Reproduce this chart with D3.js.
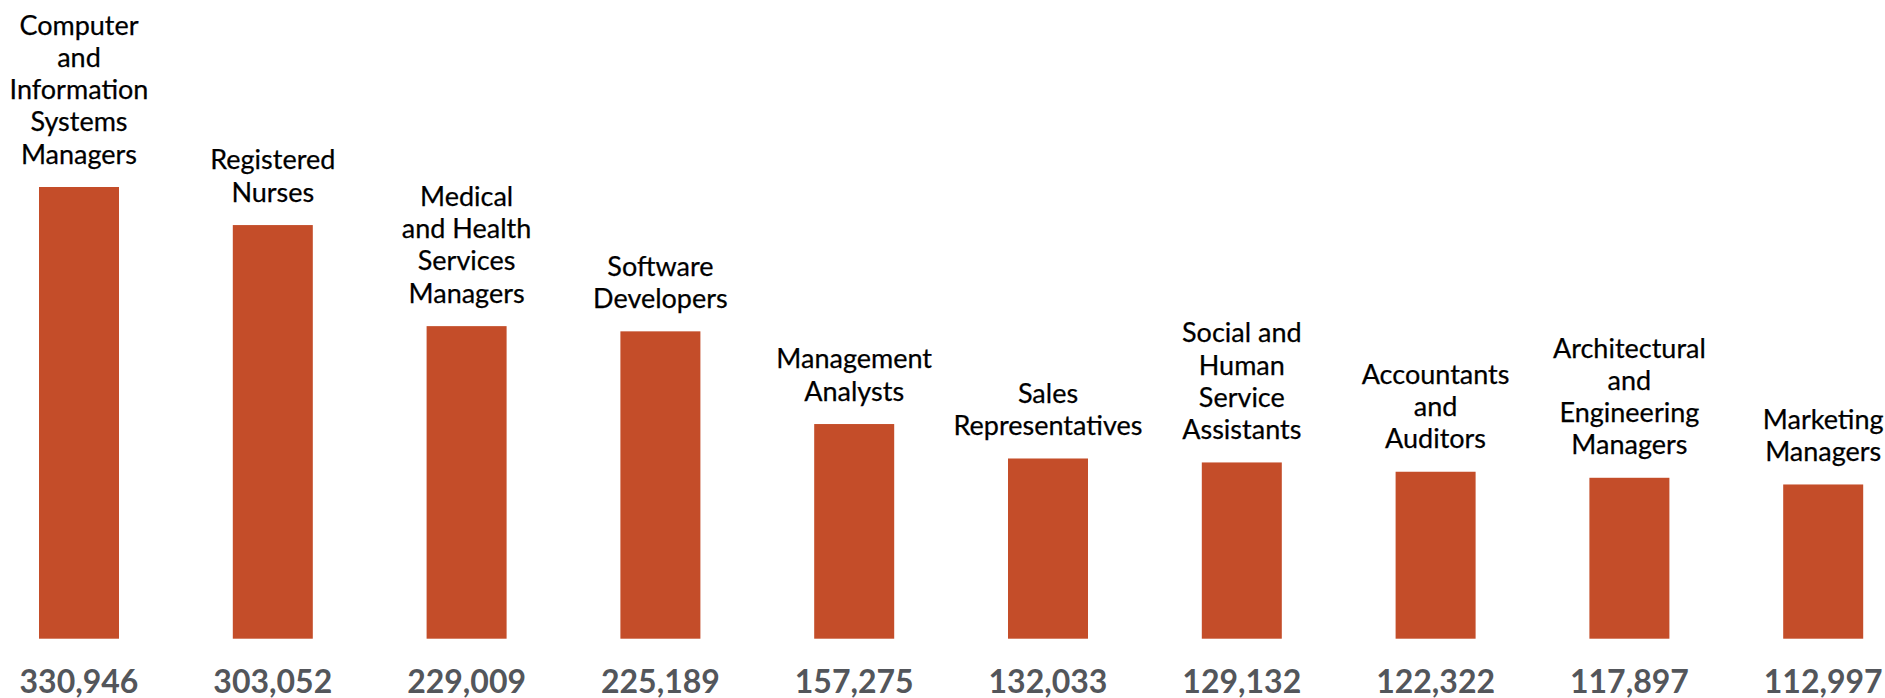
<!DOCTYPE html>
<html>
<head>
<meta charset="utf-8">
<script src="https://cdn.jsdelivr.net/npm/d3@7"></script>
<style>
  html, body { margin: 0; padding: 0; background: #fff; }
  svg { display: block; }
</style>
</head>
<body>
<svg id="chart" width="1885" height="698"></svg>
<script>
// ---- data ----
const categories = [
  "Computer\nand\nInformation\nSystems\nManagers",
  "Registered\nNurses",
  "Medical\nand Health\nServices\nManagers",
  "Software\nDevelopers",
  "Management\nAnalysts",
  "Sales\nRepresentatives",
  "Social and\nHuman\nService\nAssistants",
  "Accountants\nand\nAuditors",
  "Architectural\nand\nEngineering\nManagers",
  "Marketing\nManagers"
];
const values = [330946, 303052, 229009, 225189, 157275, 132033, 129132, 122322, 117897, 112997];

// ---- layout ----
const W = 1885, H = 698;
const step = 193.8;
const barW = 80;
const firstCenter = 79;
const baseY = 638.7, topY = 187;

const svg = d3.select("#chart");

const pIn = 1 - barW / step;
const x = d3.scaleBand()
  .domain(categories)
  .range([firstCenter - step / 2, firstCenter - step / 2 + step * categories.length])
  .paddingInner(pIn)
  .paddingOuter(pIn / 2);

const y = d3.scaleLinear()
  .domain([0, d3.max(values)])
  .range([baseY, topY]);

const data = categories.map((c, i) => ({ c, v: values[i] }));

// bars
svg.append("g").selectAll("rect")
  .data(data)
  .join("rect")
  .attr("x", d => x(d.c))
  .attr("width", x.bandwidth())
  .attr("y", d => y(d.v))
  .attr("height", d => y(0) - y(d.v))
  .attr("fill", "#c44d29");

// category labels above bars
const lineH = 32.2;
const labelGap = 23.5;
const lab = svg.append("g")
  .attr("font-family", "Lato, 'Open Sans', sans-serif")
  .attr("font-size", 27)
  .attr("fill", "#000")
  .attr("stroke", "#000")
  .attr("stroke-width", 0.25)
  .attr("text-anchor", "middle");

data.forEach(d => {
  const lines = d.c.split("\n");
  const cx = x(d.c) + x.bandwidth() / 2;
  const lastBase = y(d.v) - labelGap;
  const t = lab.append("text");
  lines.forEach((ln, j) => {
    t.append("tspan")
      .attr("x", cx)
      .attr("y", lastBase - (lines.length - 1 - j) * lineH)
      .text(ln);
  });
});

// value labels below
const fmt = d3.format(",");
svg.append("g")
  .attr("font-family", "Lato, 'Open Sans', sans-serif")
  .attr("font-size", 32)
  .attr("font-weight", "bold")
  .attr("fill", "#53565b")
  .attr("text-anchor", "middle")
  .selectAll("text")
  .data(data)
  .join("text")
  .attr("x", d => x(d.c) + x.bandwidth() / 2)
  .attr("y", 692.5)
  .text(d => fmt(d.v));
</script>
</body>
</html>
